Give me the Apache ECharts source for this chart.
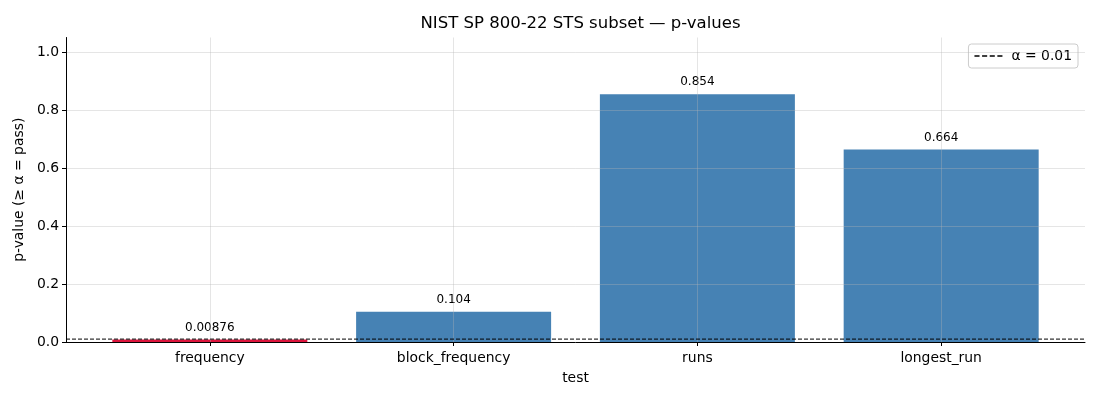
<!DOCTYPE html>
<html>
<head>
<meta charset="utf-8">
<script src="https://cdn.jsdelivr.net/npm/echarts@6/dist/echarts.min.js"></script>
<style>html,body{margin:0;padding:0;background:#fff}#c{width:1100px;height:400px}</style>
</head>
<body>
<div id="c"></div>
<script>
var categories = ['frequency', 'block_frequency', 'runs', 'longest_run'];
var pValues = [0.00876, 0.104, 0.854, 0.664];
var pLabels = ['0.00876', '0.104', '0.854', '0.664'];
var alpha = 0.01;
var yTicks = [0, 0.2, 0.4, 0.6, 0.8, 1.0];

var passColor = '#4682B4', failColor = '#DC143C';
var FONT = 'DejaVu Sans';
var xPositions = categories.map(function (c, i) { return i; });

var chart = echarts.init(document.getElementById('c'), null, {renderer: 'canvas'});
chart.setOption({
  animation: false,
  backgroundColor: '#fff',
  title: {
    text: 'NIST SP 800-22 STS subset — p-values',
    left: 575.5, top: 10, textAlign: 'center',
    textStyle: {fontFamily: FONT, fontSize: 16.5, fontWeight: 'normal', color: '#000'}
  },
  legend: {
    right: 22, top: 44,
    data: [{name: 'α = 0.01', icon: 'path://M0,0h4v1h-4z M6,0h4v1h-4z M12,0h4v1h-4z M18,0h4v1h-4z'}],
    itemWidth: 28, itemHeight: 1.3, itemGap: 5,
    itemStyle: {color: '#000'},
    padding: [5, 6, 5, 6],
    borderColor: '#cccccc', borderWidth: 1, borderRadius: 3,
    textStyle: {fontFamily: FONT, fontSize: 13.9, color: '#000', padding: [0, 0, 0, 4]}
  },
  grid: {left: 66, right: 15, top: 37.5, bottom: 58},
  xAxis: {
    type: 'value', min: -0.59, max: 3.59, z: 5,
    name: 'test', nameLocation: 'middle', nameGap: 29,
    nameTextStyle: {fontFamily: FONT, fontSize: 13.9, color: '#000'},
    axisLine: {show: true, onZero: false, lineStyle: {color: '#000', width: 1}},
    axisTick: {show: true, customValues: xPositions, length: 4, lineStyle: {color: '#000'}},
    axisLabel: {
      customValues: xPositions, margin: 9,
      fontFamily: FONT, fontSize: 13.9, color: '#000',
      formatter: function (v) { return categories[Math.round(v)] || ''; }
    },
    splitLine: {show: true, lineStyle: {color: 'rgba(180,180,180,0.35)', width: 1}}
  },
  yAxis: {
    type: 'value', min: 0, max: 1.05, z: 5,
    name: 'p-value (≥ α = pass)', nameLocation: 'middle', nameGap: 35, nameRotate: 90,
    nameTextStyle: {fontFamily: FONT, fontSize: 13.9, color: '#000'},
    axisLine: {show: true, onZero: false, lineStyle: {color: '#000', width: 1}},
    axisTick: {show: true, customValues: yTicks, length: 4, lineStyle: {color: '#000'}},
    axisLabel: {
      customValues: yTicks, margin: 7,
      fontFamily: FONT, fontSize: 13.9, color: '#000',
      formatter: function (v) { return v.toFixed(1); }
    },
    splitLine: {show: true, lineStyle: {color: 'rgba(180,180,180,0.35)', width: 1}}
  },
  series: [
    {
      type: 'bar', name: 'p-value', barWidth: 195, z: 2,
      data: pValues.map(function (v, i) {
        return {value: [i, v], itemStyle: {color: v >= alpha ? passColor : failColor}};
      }),
      label: {
        show: true, position: 'top', distance: 6,
        fontFamily: FONT, fontSize: 12, color: '#000',
        formatter: function (p) { return pLabels[p.dataIndex]; }
      }
    },
    {
      type: 'line', name: 'α = 0.01', symbol: 'none', z: 6,
      data: [[-0.59, alpha], [3.59, alpha]],
      lineStyle: {color: '#000', width: 1, type: [4, 2]},
      itemStyle: {color: '#000'}
    }
  ]
});
</script>
</body>
</html>
